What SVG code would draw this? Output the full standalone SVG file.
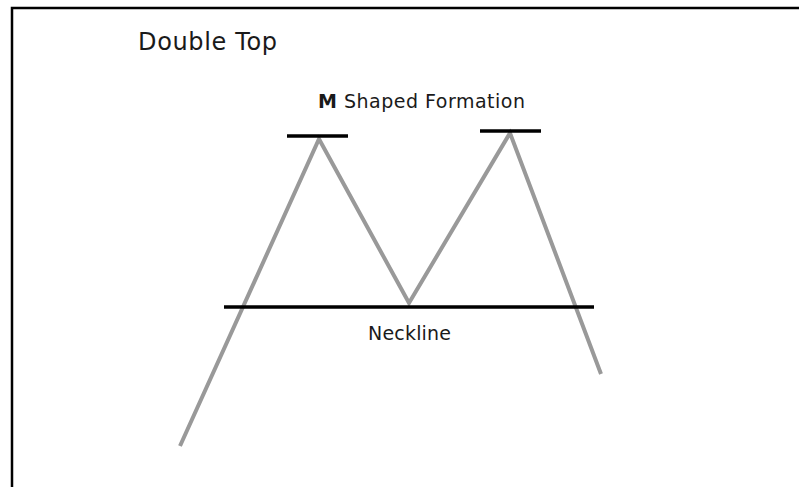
<svg xmlns="http://www.w3.org/2000/svg" width="799" height="487" viewBox="0 0 799 487">
<style>
.t{font-family:"DejaVu Sans","Verdana",sans-serif;fill:#1a1a1a}
.bar{stroke:#000;stroke-width:3.5}
.zig{fill:none;stroke:#999;stroke-width:4;stroke-linejoin:miter}
</style>
<rect width="799" height="487" fill="#fff"/>
<g id="frame"><path d="M12 490 V8 H802" fill="none" stroke="#000" stroke-width="2.5"/></g>
<g id="title"><text class="t" x="138" y="50" font-size="24" textLength="139" lengthAdjust="spacing">Double Top</text></g>
<g id="connectors">
<polyline class="zig" points="180,446 319,139 409,303 510,133 601,374"/>
</g>
<g id="peak1"><line class="bar" x1="287" y1="136" x2="348" y2="136"/></g>
<g id="peak2"><line class="bar" x1="480" y1="131" x2="541" y2="131"/></g>
<g id="neckline"><line class="bar" x1="224" y1="307" x2="594" y2="307"/></g>
<g id="label-m"><text class="t" x="318" y="108" font-size="19" textLength="207" lengthAdjust="spacing"><tspan font-weight="bold">M</tspan> Shaped Formation</text></g>
<g id="label-neck"><text class="t" x="368" y="340" font-size="19" textLength="83" lengthAdjust="spacing">Neckline</text></g>
</svg>
